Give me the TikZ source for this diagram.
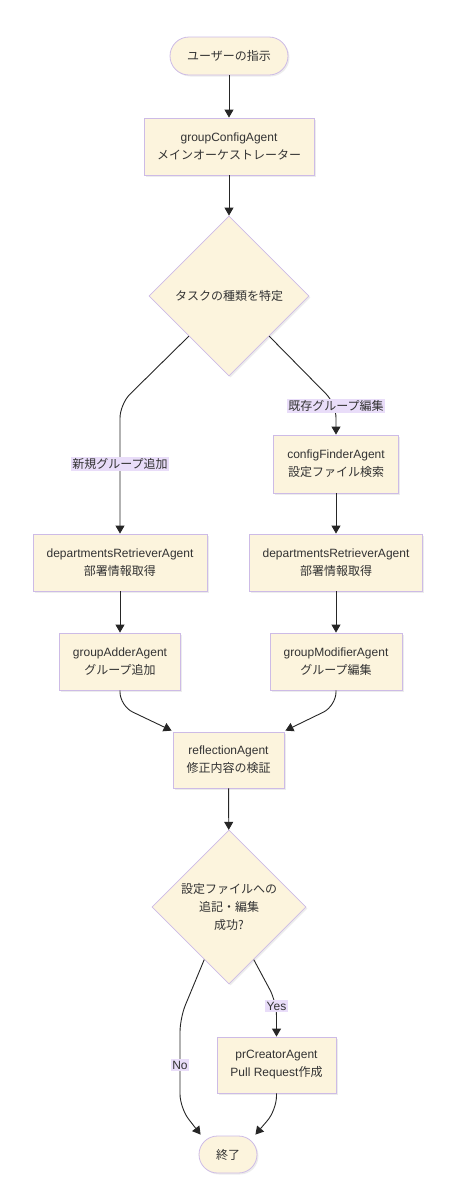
\documentclass[tikz,border=0pt]{standalone}
\usepackage{fontspec}
\setmainfont{Liberation Sans}
\newfontfamily\jp{Noto Sans CJK JP}
\usetikzlibrary{shapes.geometric,arrows.meta,shadows,calc}
\definecolor{nodefill}{HTML}{FCF4DD}
\definecolor{nodeborder}{HTML}{CDBBE6}
\definecolor{lblfill}{HTML}{E9DDF9}
\definecolor{txt}{HTML}{333333}
\tikzset{
  base/.style={draw=nodeborder, fill=nodefill, line width=0.8pt, text=txt, font=\fontsize{12}{18}\selectfont, align=center,
    drop shadow={opacity=0.15, shadow xshift=1.5pt, shadow yshift=-1.5pt}},
  agent/.style={base, rectangle, minimum height=57pt, inner sep=0pt},
  term/.style={base, rectangle, minimum height=38pt, rounded corners=19pt, inner sep=0pt},
  decision/.style={base, diamond, aspect=1, inner sep=0pt},
  conn/.style={draw=black!85, line width=0.9pt, -{Triangle[length=8pt,width=9pt]}, rounded corners=14pt},
  lbl/.style={fill=lblfill, text=txt, inner sep=1.5pt, font=\fontsize{12}{14}\selectfont},
}
\begin{document}
\begin{tikzpicture}[x=1pt,y=-1pt]
\useasboundingbox (0,0) rectangle (456,1200);
\node[term, minimum width=118pt] (start) at (229,56) {\jp ユーザーの指示};
\node[agent, minimum width=170pt] (gca) at (229,146.5) {groupConfigAgent\\{\jp メインオーケストレーター}};
\node[decision, minimum width=160pt, minimum height=160pt] (d1) at (229,296) {\jp タスクの種類を特定};
\node[agent, minimum width=125pt, minimum height=58pt] (cf) at (336,464) {configFinderAgent\\{\jp 設定ファイル検索}};
\node[agent, minimum width=174pt] (drl) at (120,562.5) {departmentsRetrieverAgent\\{\jp 部署情報取得}};
\node[agent, minimum width=173pt] (drr) at (336,562.5) {departmentsRetrieverAgent\\{\jp 部署情報取得}};
\node[agent, minimum width=121pt] (ga) at (120,661.5) {groupAdderAgent\\{\jp グループ追加}};
\node[agent, minimum width=132pt] (gm) at (336,661.5) {groupModifierAgent\\{\jp グループ編集}};
\node[agent, minimum width=111pt, minimum height=56pt] (refl) at (228.5,760) {reflectionAgent\\{\jp 修正内容の検証}};
\node[decision, minimum width=154pt, minimum height=154pt] (d2) at (229,907) {\jp 設定ファイルへの\\\jp 追記・編集\\\jp 成功?};
\node[agent, minimum width=119pt, minimum height=56pt] (pr) at (276.5,1065) {prCreatorAgent\\Pull Request{\jp 作成}};
\node[term, minimum width=58pt, minimum height=37pt, rounded corners=18.5pt] (end) at (228,1154.5) {\jp 終了};

\coordinate (l1) at (120,404);
\coordinate (r1) at (336,404);
\coordinate (l2) at (120,706);
\coordinate (r2) at (336,706);
\coordinate (n1) at (180,1018);
\coordinate (n2) at (180,1108);
\coordinate (y1) at (276.5,1002);
\coordinate (p1) at (276.5,1110);
\coordinate (d2sw) at ($(d2.south)!0.32!(d2.west)$);
\coordinate (d2se) at ($(d2.south)!0.32!(d2.east)$);

\draw[conn] (start) -- (gca);
\draw[conn] (gca) -- (d1);
\draw[conn] (d1.south west) -- (l1) -- (drl.north);
\draw[conn] (d1.south east) -- (r1) -- (cf.north);
\draw[conn] (cf) -- (drr);
\draw[conn] (drl) -- (ga);
\draw[conn] (drr) -- (gm);
\draw[conn] (ga.south) -- (l2) -- ([xshift=-1pt,yshift=1pt]refl.north west);
\draw[conn] (gm.south) -- (r2) -- ([xshift=1pt,yshift=1pt]refl.north east);
\draw[conn] (refl) -- (d2);
\draw[conn] (d2sw) -- (n1) -- (n2) -- ([xshift=2pt,yshift=1pt]end.north west);
\draw[conn] (d2se) -- (y1) -- (pr.north);
\draw[conn] (pr.south) -- (p1) -- ([xshift=-2pt,yshift=1pt]end.north east);

\node[lbl] (lnew) at (120,464) {\jp 新規グループ追加};
\node[lbl] (ledit) at (336,406) {\jp 既存グループ編集};
\node[lbl] (lno) at (180,1065) {No};
\node[lbl] (lyes) at (276.5,1006) {Yes};
\end{tikzpicture}
\end{document}
